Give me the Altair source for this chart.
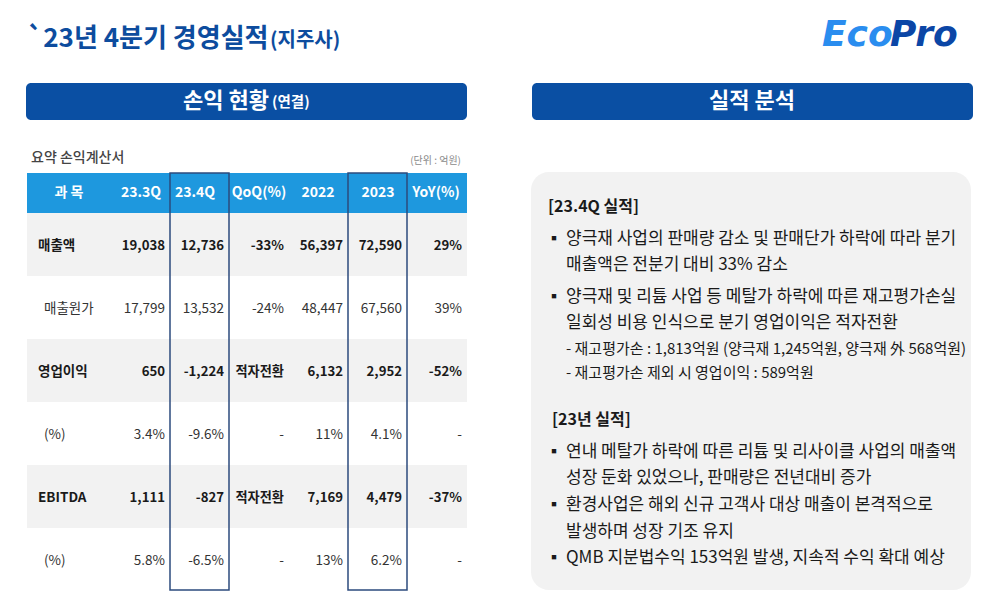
import altair as alt
import pandas as pd

# ---------------- data ----------------
title_main = "`23년 4분기 경영실적"
title_sub = "(지주사)"
logo_a, logo_b = "Eco", "Pro"
left_head, left_head_sub = "손익 현황", "(연결)"
right_head = "실적 분석"
table_caption = "요약 손익계산서"
unit_note = "(단위 : 억원)"

col_heads = ["과 목", "23.3Q", "23.4Q", "QoQ(%)", "2022", "2023", "YoY(%)"]
items = ["매출액", "매출원가", "영업이익", "(%)", "EBITDA", "(%)"]
bold_rows = [True, False, True, False, True, False]
q3_23 = ["19,038", "17,799", "650", "3.4%", "1,111", "5.8%"]
q4_23 = ["12,736", "13,532", "-1,224", "-9.6%", "-827", "-6.5%"]
qoq = ["-33%", "-24%", "적자전환", "-", "적자전환", "-"]
fy2022 = ["56,397", "48,447", "6,132", "11%", "7,169", "13%"]
fy2023 = ["72,590", "67,560", "2,952", "4.1%", "4,479", "6.2%"]
yoy = ["29%", "39%", "-52%", "-", "-37%", "-"]

sec1_title = "[23.4Q 실적]"
sec1_lines = [
    ("b", "양극재 사업의 판매량 감소 및 판매단가 하락에 따라 분기"),
    ("c", "매출액은 전분기 대비 33% 감소"),
    ("b", "양극재 및 리튬 사업 등 메탈가 하락에 따른 재고평가손실"),
    ("c", "일회성 비용 인식으로 분기 영업이익은 적자전환"),
    ("s", "- 재고평가손 : 1,813억원 (양극재 1,245억원, 양극재 外 568억원)"),
    ("s", "- 재고평가손 제외 시 영업이익 : 589억원"),
]
sec2_title = "[23년 실적]"
sec2_lines = [
    ("b", "연내 메탈가 하락에 따른 리튬 및 리사이클 사업의 매출액"),
    ("c", "성장 둔화 있었으나, 판매량은 전년대비 증가"),
    ("b", "환경사업은 해외 신규 고객사 대상 매출이 본격적으로"),
    ("c", "발생하며 성장 기조 유지"),
    ("b", "QMB 지분법수익 153억원 발생, 지속적 수익 확대 예상"),
]

# ---------------- layout (pixels of the slide) ----------------
FONT = "Noto Sans CJK KR"
W, H = 980, 595
XD = [8, 8 + W]
YD = [8, 8 + H]

NAVY = "#0d4c9e"
BAR = "#0a4fa3"
HEADBLUE = "#1e98de"
GRAY = "#f2f2f2"
BOXLINE = "#2c4b7d"
INK = "#1a1a1a"

tbl_left, tbl_right = 27, 467
head_top, head_bot = 173, 213
row_h = 63
head_cx = [69, 141, 195, 259, 318, 378, 436]
col_rx = [165, 224, 284, 343, 402, 462]
sec1_y = [239, 265, 297, 323, 349, 373]
sec2_y = [452, 478, 505, 532, 558]


def X(f):
    return alt.X(f, type="quantitative", scale=alt.Scale(domain=XD), axis=None)


def Y(f):
    return alt.Y(f, type="quantitative", scale=alt.Scale(domain=YD, reverse=True), axis=None)


def rects(rows, **kw):
    df = pd.DataFrame(rows, columns=["x", "x2", "y", "y2"])
    return alt.Chart(df).mark_rect(**kw).encode(x=X("x"), x2="x2", y=Y("y"), y2="y2")


def texts(rows, **kw):
    df = pd.DataFrame(rows, columns=["x", "y", "t"])
    base = dict(font=FONT, baseline="middle", align="left")
    base.update(kw)
    return alt.Chart(df).mark_text(**base).encode(x=X("x"), y=Y("y"), text="t:N")


layers = []

# panels
layers.append(rects([(26, 467, 83, 120), (532, 973, 83, 120)], color=BAR, cornerRadius=5))
layers.append(rects([(531, 971, 172, 590)], color=GRAY, cornerRadius=18))

# table header band & gray row bands
layers.append(rects([(tbl_left, tbl_right, head_top, head_bot)], color=HEADBLUE))
band_rows = [(tbl_left, tbl_right, head_bot + i * row_h, head_bot + (i + 1) * row_h)
             for i, b in enumerate(bold_rows) if b]
layers.append(rects(band_rows, color=GRAY))

# highlight boxes around 23.4Q and 2023 columns
layers.append(rects([(170, 229, head_top, 590), (348, 407, head_top, 590)],
                    fillOpacity=0, stroke=BOXLINE, strokeWidth=1.5))

# title & logo
layers.append(texts([(27, 39, title_main)], fontSize=26, fontWeight="bold", color=NAVY))
layers.append(texts([(270, 41, title_sub)], fontSize=20, fontWeight="bold", color=NAVY))
layers.append(texts([(822, 35, logo_a)], font="DejaVu Sans", fontSize=36, fontWeight="bold",
                    fontStyle="italic", color="#2a8def"))
layers.append(texts([(890, 35, logo_b)], font="DejaVu Sans", fontSize=36, fontWeight="bold",
                    fontStyle="italic", color="#0b46a6"))

# header bar texts
layers.append(texts([(183, 101, left_head)], fontSize=22, fontWeight="bold", color="white"))
layers.append(texts([(272, 103, left_head_sub)], fontSize=14.5, fontWeight="bold", color="white"))
layers.append(texts([(752, 101, right_head)], fontSize=22, fontWeight="bold", color="white",
                    align="center"))

# table captions
layers.append(texts([(31, 158, table_caption)], fontSize=14, fontWeight=500, color="#444444"))
layers.append(texts([(461, 161, unit_note)], fontSize=10, color="#8a8a8a", align="right"))

# column headers
layers.append(texts(list(zip(head_cx, [head_top + 20] * 7, col_heads)), fontSize=14,
                    fontWeight="bold", color="white", align="center"))

# table body
cols = [q3_23, q4_23, qoq, fy2022, fy2023, yoy]
body_b, body_n, lab_b, lab_n = [], [], [], []
for i, (lab, b) in enumerate(zip(items, bold_rows)):
    yc = head_bot + row_h * i + row_h / 2 + 1
    (lab_b if b else lab_n).append((38 if b else 44, yc, lab))
    for j, col in enumerate(cols):
        (body_b if b else body_n).append((col_rx[j], yc, col[i]))
layers.append(texts(lab_b, fontSize=13.5, fontWeight="bold", color=INK))
layers.append(texts(lab_n, fontSize=13.5, color="#333333"))
layers.append(texts(body_b, fontSize=13.2, fontWeight="bold", color=INK, align="right"))
layers.append(texts(body_n, fontSize=13.5, color="#333333", align="right"))

# right panel text
layers.append(texts([(548, 207, sec1_title), (552, 420, sec2_title)], fontSize=16,
                    fontWeight="bold", color=INK))
bul, main, sub = [], [], []
for (kind, s), yy in list(zip(sec1_lines, sec1_y)) + list(zip(sec2_lines, sec2_y)):
    if kind == "s":
        sub.append((566, yy, s))
    else:
        main.append((566, yy, s))
        if kind == "b":
            bul.append((554, yy, "▪"))
layers.append(texts(bul, fontSize=16, color=INK, align="center"))
layers.append(texts(main, fontSize=17, color=INK))
layers.append(texts(sub, fontSize=15, color=INK))

chart = alt.layer(*layers).properties(
    width=W, height=H, padding=0, autosize="none", background="white"
).configure_view(strokeWidth=0)

chart.save("out.html", embed_options={"renderer": "svg", "actions": False})
